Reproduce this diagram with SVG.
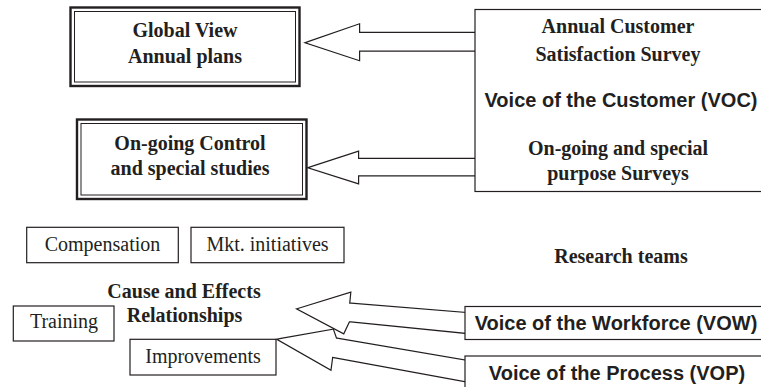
<svg xmlns="http://www.w3.org/2000/svg" width="761" height="387" viewBox="0 0 761 387">
<style>
  .serif { font-family: "Liberation Serif", "Times New Roman", serif; font-size: 20px; fill: #231f20; text-anchor: middle; }
  .b { font-weight: bold; }
  .sans { font-family: "Liberation Sans", Arial, sans-serif; font-size: 20px; font-weight: bold; fill: #231f20; text-anchor: middle; }
  .box { fill: #fff; stroke: #231f20; stroke-width: 1.2; }
  .outer { fill: #fff; stroke: #231f20; stroke-width: 2.4; }
  .inner { fill: none; stroke: #231f20; stroke-width: 1; }
  .arrOut { fill: #fff; stroke: #231f20; stroke-width: 4.4; stroke-linejoin: miter; stroke-miterlimit: 10; }
  .arrIn { fill: #fff; stroke: #ffffff; stroke-width: 2; stroke-linejoin: miter; stroke-miterlimit: 10; }
</style>
<rect width="761" height="387" fill="#fff"/>

<g id="connectors">
  <polygon class="arrOut" points="310,42.7 358,26 358,34 476,34 476,49.5 358,49.5 358,58.5"/>
  <polygon class="arrIn" points="310,42.7 358,26 358,34 476,34 476,49.5 358,49.5 358,58.5"/>
  <polygon class="arrOut" points="313,167.7 357,153.3 357,160 476,160 476,174.3 357,174.3 357,181.7"/>
  <polygon class="arrIn" points="313,167.7 357,153.3 357,160 476,160 476,174.3 357,174.3 357,181.7"/>
  <polygon class="arrOut" points="300.7,309.3 349,294.3 348,304.5 465,314 465,331.7 348.5,320 343,331.7"/>
  <polygon class="arrIn" points="300.7,309.3 349,294.3 348,304.5 465,314 465,331.7 348.5,320 343,331.7"/>
  <polygon class="arrOut" points="281.3,340 332.3,331 335.3,339.5 465,361.7 465,380 331.3,355.5 329.7,367.7"/>
  <polygon class="arrIn" points="281.3,340 332.3,331 335.3,339.5 465,361.7 465,380 331.3,355.5 329.7,367.7"/>
</g>

<g id="global-view">
  <rect class="outer" x="70.5" y="7.5" width="229" height="78.5"/>
  <rect class="inner" x="74.5" y="11.5" width="221" height="70.5"/>
  <text class="serif b" x="185" y="37">Global View</text>
  <text class="serif b" x="185" y="63">Annual plans</text>
</g>

<g id="ongoing-control">
  <rect class="outer" x="77" y="119.5" width="229.5" height="79.5"/>
  <rect class="inner" x="81" y="123.5" width="221.5" height="71.5"/>
  <text class="serif b" x="190" y="150">On-going Control</text>
  <text class="serif b" x="190" y="175">and special studies</text>
</g>

<g id="voc">
  <rect class="box" x="475" y="9.5" width="300" height="182"/>
  <text class="serif b" x="618" y="33">Annual Customer</text>
  <text class="serif b" x="618" y="61">Satisfaction Survey</text>
  <text class="sans" x="621" y="107">Voice of the Customer (VOC)</text>
  <text class="serif b" x="618" y="155">On-going and special</text>
  <text class="serif b" x="618" y="180">purpose Surveys</text>
</g>

<g id="research-teams">
  <text class="serif b" x="621" y="263">Research teams</text>
</g>

<g id="compensation">
  <rect class="box" x="26.7" y="227.3" width="151.6" height="35.4"/>
  <text class="serif" x="102.5" y="250.7">Compensation</text>
</g>

<g id="mkt-initiatives">
  <rect class="box" x="191" y="227.3" width="153" height="35.4"/>
  <text class="serif" x="267.5" y="250.7">Mkt. initiatives</text>
</g>

<g id="cause-effects">
  <text class="serif b" x="184" y="297.5">Cause and Effects</text>
  <text class="serif b" x="184.5" y="322">Relationships</text>
</g>

<g id="training">
  <rect class="box" x="13.3" y="306" width="100.7" height="35"/>
  <text class="serif" x="64" y="328.3">Training</text>
</g>

<g id="improvements">
  <rect class="box" x="130" y="339.3" width="146" height="35.7"/>
  <text class="serif" x="203" y="363.3">Improvements</text>
</g>

<g id="vow">
  <rect class="box" x="465" y="306.5" width="310" height="33"/>
  <text class="sans" x="616" y="330">Voice of the Workforce (VOW)</text>
</g>

<g id="vop">
  <rect class="box" x="465" y="356" width="310" height="40"/>
  <text class="sans" x="617" y="380">Voice of the Process (VOP)</text>
</g>
</svg>
